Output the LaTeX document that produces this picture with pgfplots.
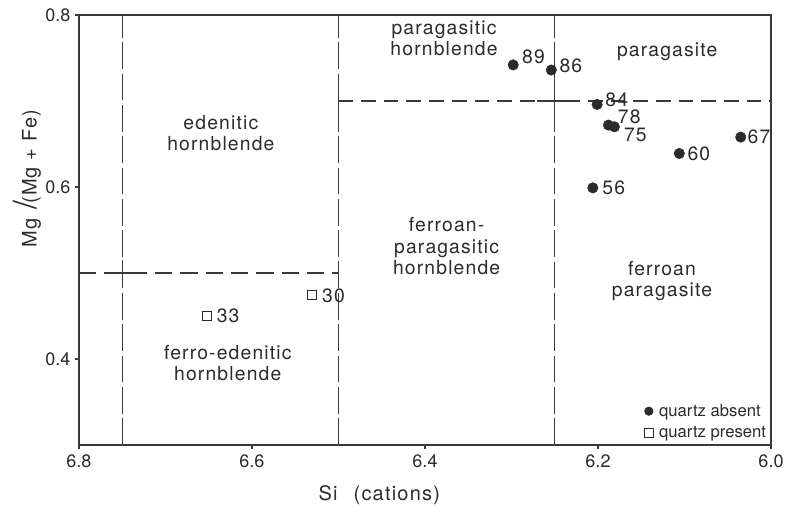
\documentclass[border=0pt]{standalone}
\usepackage{fontspec}
\setmainfont{TeX Gyre Heros}
\newfontfamily\lblfont[LetterSpace=6]{TeX Gyre Heros}
\usepackage{pgfplots}
\usepackage{pgfplotstable}
\pgfplotsset{compat=1.18}
\definecolor{ink}{HTML}{2B2B2B}
\definecolor{lin}{HTML}{3A3A3A}

\pgfplotstableread{
x     y     label dx  dy
6.298 0.742 89    6.5 6
6.254 0.736 86    6.0 3
6.201 0.696 84    6.0 3.5
6.188 0.672 78    7.0 6
6.181 0.670 75    7.0 -6
6.035 0.658 67    5.0 0
6.106 0.639 60    6.0 0
6.206 0.599 56    7.0 0
}\absent

\pgfplotstableread{
x     y     label dx  dy
6.531 0.474 30    7.5 0
6.652 0.450 33    7.0 0
}\present

\begin{document}
\begin{tikzpicture}
\begin{axis}[
  scale only axis, width=519pt, height=322.5pt,
  xmin=6.0, xmax=6.8, ymin=0.3, ymax=0.8, x dir=reverse,
  xtick={6.0,6.2,6.4,6.6,6.8}, ytick={0.4,0.6,0.8},
  tick pos=left, tick align=outside, major tick length=3pt,
  axis line style={lin, line width=1pt},
  tick style={lin, line width=0.8pt},
  /pgf/number format/assume math mode=true,
  /pgf/number format/.cd, fixed, fixed zerofill, precision=1, /pgfplots/.cd,
  ticklabel style={font=\fontsize{13.5}{14}\selectfont, text=ink},
  xticklabel style={yshift=-1pt},
  xlabel={Si\hspace{0.8em}(cations)},
  ylabel={Mg\hspace{0.45em}{\fontsize{24}{24}\selectfont/}\hspace{-0.15em}(Mg + Fe)},
  label style={font=\lblfont\fontsize{15}{16}\selectfont, text=ink},
  xlabel style={at={(axis description cs:0.434,-0.116)}, anchor=center},
  ylabel style={at={(axis description cs:-0.075,0.619)}, anchor=center},
  legend style={at={(rel axis cs:1,0)}, anchor=south east, xshift=-2pt, yshift=2.5pt,
    draw=none, fill=none, font=\fontsize{12.5}{13}\selectfont, text=ink,
    row sep=3pt, inner sep=0pt, nodes={inner sep=1.5pt},
    /tikz/every odd column/.append style={column sep=3pt}},
  legend cell align=left,
  clip=false,
]
% dashed field boundaries
\addplot[forget plot, lin, line width=1pt, dash pattern=on 20pt off 3.5pt] coordinates {(6.75,0.3) (6.75,0.8)};
\addplot[forget plot, lin, line width=1pt, dash pattern=on 20pt off 3.5pt] coordinates {(6.5,0.3) (6.5,0.8)};
\addplot[forget plot, lin, line width=1pt, dash pattern=on 20pt off 3.5pt] coordinates {(6.25,0.3) (6.25,0.8)};
\addplot[forget plot, lin, line width=1pt, dash pattern=on 13pt off 6pt] coordinates {(6.8,0.5) (6.5,0.5)};
\addplot[forget plot, lin, line width=1pt, dash pattern=on 11pt off 6pt] coordinates {(6.5,0.7) (6.0,0.7)};
% solid junction crosses
\addplot[forget plot, lin, line width=1pt] coordinates {(6.764,0.5) (6.736,0.5)};
\addplot[forget plot, lin, line width=1pt] coordinates {(6.75,0.485) (6.75,0.515)};
\addplot[forget plot, lin, line width=1pt] coordinates {(6.271,0.7) (6.229,0.7)};
\addplot[forget plot, lin, line width=1pt] coordinates {(6.25,0.681) (6.25,0.719)};
\addplot[forget plot, lin, line width=1pt] coordinates {(6.5,0.486) (6.5,0.514)};
\addplot[forget plot, lin, line width=1pt] coordinates {(6.5,0.683) (6.5,0.713)};

\addplot[only marks, mark=*, mark size=3.9pt, ink,
  legend image post style={mark size=3.2pt},
  nodes near coords, point meta=explicit symbolic,
  visualization depends on={\thisrow{dx} \as \dx},
  visualization depends on={\thisrow{dy} \as \dy},
  every node near coord/.append style={anchor=west, inner sep=0pt,
    xshift=\dx pt, yshift=\dy pt, font=\lblfont\fontsize{14.5}{16}\selectfont, text=ink}]
  table[x=x, y=y, meta=label] {\absent};
\addlegendentry{quartz absent}

\addplot[only marks, mark=square, mark size=3.4pt, ink, mark options={line width=0.7pt},
  legend image post style={mark size=3.2pt},
  nodes near coords, point meta=explicit symbolic,
  visualization depends on={\thisrow{dx} \as \dx},
  visualization depends on={\thisrow{dy} \as \dy},
  every node near coord/.append style={anchor=west, inner sep=0pt,
    xshift=\dx pt, yshift=\dy pt, font=\lblfont\fontsize{14.5}{16}\selectfont, text=ink}]
  table[x=x, y=y, meta=label] {\present};
\addlegendentry{quartz present}

% field names
\begin{scope}[every node/.style={align=center, text=ink, font=\lblfont\fontsize{14.5}{16}\selectfont}]
\node at (axis cs:6.378,0.773) {paragasitic\\hornblende};
\node at (axis cs:6.120,0.757) {paragasite};
\node at (axis cs:6.636,0.663) {edenitic\\hornblende};
\node at (axis cs:6.375,0.531) {ferroan-\\paragasitic\\hornblende};
\node at (axis cs:6.126,0.491) {ferroan\\paragasite};
\node at (axis cs:6.628,0.395) {ferro-edenitic\\hornblende};
\end{scope}
\end{axis}
\pgfresetboundingbox
\path ([shift={(-59.25pt,-52.5pt)}]current axis.south west) rectangle ([shift={(10.5pt,11.25pt)}]current axis.north east);
\end{tikzpicture}
\end{document}
